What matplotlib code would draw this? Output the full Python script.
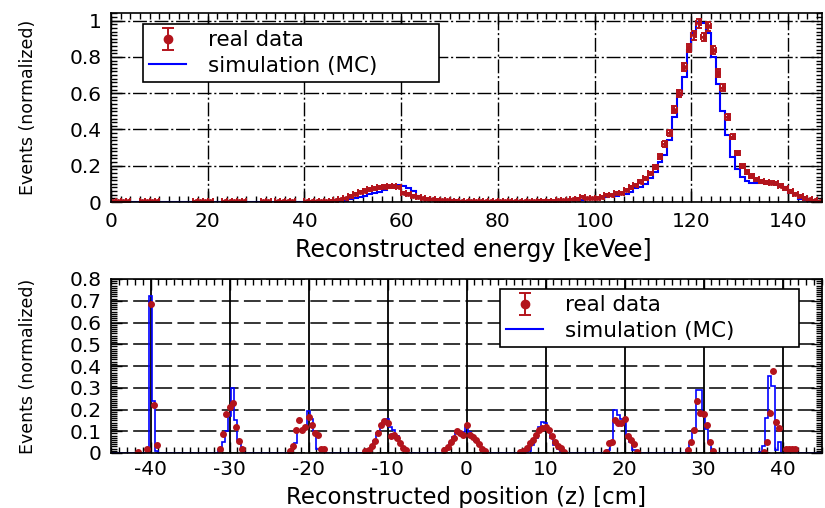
import numpy as np
import matplotlib
matplotlib.use("Agg")
import matplotlib.pyplot as plt
from matplotlib.lines import Line2D
from matplotlib.ticker import MultipleLocator, FuncFormatter

plt.rcParams['font.family'] = ['DejaVu Sans']
plt.rcParams['axes.unicode_minus'] = False

RED = '#b3141c'
BLUE = '#0000ff'

# ---------------------------------------------------------------
# Energy spectrum: 1 keV bins from 0 to 147 keV (normalized to peak)
# ---------------------------------------------------------------
energy_data = [
    0.003, 0.004, 0.003, 0.003, 0.0, 0.0, 0.003, 0.004, 0.003, 0.003,
    0.0, 0.0, 0.0, 0.0, 0.0, 0.0, 0.0, 0.003, 0.004, 0.005,
    0.004, 0.0, 0.0, 0.005, 0.006, 0.006, 0.005, 0.004, 0.0, 0.0,
    0.0, 0.003, 0.003, 0.0, 0.003, 0.004, 0.003, 0.003, 0.0, 0.0,
    0.004, 0.005, 0.005, 0.006, 0.006, 0.007, 0.009, 0.014, 0.020, 0.032,
    0.045, 0.055, 0.063, 0.070, 0.075, 0.080, 0.084, 0.086, 0.087, 0.082,
    0.050, 0.042, 0.034, 0.027, 0.021, 0.017, 0.015, 0.013, 0.011, 0.009,
    0.008, 0.007, 0.006, 0.006, 0.005, 0.005, 0.005, 0.004, 0.004, 0.004,
    0.004, 0.004, 0.004, 0.005, 0.005, 0.005, 0.006, 0.006, 0.007, 0.007,
    0.008, 0.008, 0.009, 0.010, 0.011, 0.015, 0.017, 0.030, 0.020, 0.020,
    0.024, 0.030, 0.038, 0.040, 0.047, 0.052, 0.066, 0.080, 0.094, 0.112,
    0.130, 0.158, 0.195, 0.250, 0.320, 0.380, 0.510, 0.600, 0.745, 0.850,
    0.920, 0.985, 0.910, 0.970, 0.840, 0.710, 0.630, 0.470, 0.360, 0.270,
    0.200, 0.167, 0.143, 0.125, 0.115, 0.110, 0.107, 0.103, 0.090, 0.075,
    0.058, 0.045, 0.035, 0.022, 0.015, 0.010, 0.006,
]
energy_mc = [
    0.0, 0.0, 0.0, 0.0, 0.0, 0.0, 0.0, 0.0, 0.0, 0.0,
    0.0, 0.0, 0.0, 0.0, 0.0, 0.0, 0.0, 0.0, 0.0, 0.0,
    0.0, 0.0, 0.0, 0.0, 0.0, 0.0, 0.0, 0.0, 0.0, 0.0,
    0.0, 0.0, 0.0, 0.0, 0.0, 0.0, 0.0, 0.0, 0.0, 0.0,
    0.0, 0.0, 0.0, 0.0, 0.0, 0.001, 0.003, 0.005, 0.008, 0.015,
    0.022, 0.027, 0.035, 0.042, 0.048, 0.053, 0.065, 0.085, 0.093, 0.095,
    0.090, 0.076, 0.058, 0.035, 0.022, 0.018, 0.015, 0.013, 0.012, 0.011,
    0.010, 0.009, 0.008, 0.007, 0.006, 0.005, 0.005, 0.004, 0.004, 0.004,
    0.004, 0.004, 0.004, 0.004, 0.004, 0.005, 0.005, 0.005, 0.005, 0.006,
    0.006, 0.006, 0.007, 0.008, 0.009, 0.010, 0.011, 0.012, 0.014, 0.016,
    0.018, 0.020, 0.026, 0.033, 0.033, 0.044, 0.044, 0.057, 0.075, 0.085,
    0.100, 0.130, 0.167, 0.220, 0.260, 0.340, 0.470, 0.590, 0.690, 0.840,
    0.930, 0.995, 0.985, 0.930, 0.800, 0.650, 0.500, 0.370, 0.250, 0.180,
    0.140, 0.115, 0.107, 0.107, 0.106, 0.105, 0.104, 0.100, 0.088, 0.080,
    0.050, 0.045, 0.018, 0.013, 0.006, 0.005, 0.004,
]
energy_peak_counts = 1600.0      # counts in the highest bin, for Poisson errors
energy_xticks = [0, 20, 40, 60, 80, 100, 120, 140]
energy_yticks = [0, 0.2, 0.4, 0.6, 0.8, 1.0]

# ---------------------------------------------------------------
# Position spectrum: 0.4 cm bins from -45 to 45 cm, nine source positions.
# For every position: offset (in bins) of the first listed bin, then values.
# ---------------------------------------------------------------
z_positions = [-40, -30, -20, -10, 0, 10, 20, 30, 40]

z_mc_first = [0, -3, -5, -6, -7, -5, -5, -5, -7]
z_mc_values = [
    [0.72, 0.24, 0.01],
    [0.01, 0.05, 0.10, 0.17, 0.30, 0.15, 0.06, 0.015],
    [0.017, 0.045, 0.10, 0.11, 0.12, 0.195, 0.155, 0.10, 0.02],
    [0.008, 0.025, 0.055, 0.09, 0.13, 0.15, 0.155, 0.12, 0.105, 0.08, 0.05, 0.015],
    [0.01, 0.025, 0.045, 0.075, 0.09, 0.092, 0.095, 0.12, 0.095, 0.08, 0.055, 0.035, 0.012],
    [0.01, 0.035, 0.07, 0.12, 0.143, 0.14, 0.11, 0.07, 0.035, 0.02, 0.005],
    [0.015, 0.05, 0.20, 0.175, 0.155, 0.15, 0.085, 0.05, 0.015],
    [0.015, 0.045, 0.105, 0.29, 0.29, 0.175, 0.11, 0.05, 0.01],
    [0.005, 0.03, 0.16, 0.355, 0.31, 0.015, 0.05],
]

z_data_first = [-4, -3, -6, -7, -7, -8, -6, -5, -6]
z_data_values = [
    [0.006, 0.0, 0.0, 0.02, 0.685, 0.22, 0.035],
    [0.02, 0.086, 0.18, 0.21, 0.23, 0.12, 0.057, 0.017],
    [0.01, 0.034, 0.107, 0.15, 0.107, 0.12, 0.165, 0.13, 0.09, 0.085, 0.018, 0.018],
    [0.008, 0.012, 0.03, 0.055, 0.09, 0.13, 0.145, 0.14, 0.08, 0.085, 0.07, 0.045, 0.022, 0.015],
    [0.012, 0.027, 0.05, 0.07, 0.10, 0.09, 0.085, 0.13, 0.085, 0.075, 0.06, 0.04, 0.02, 0.008],
    [0.005, 0.01, 0.025, 0.045, 0.06, 0.085, 0.107, 0.117, 0.12, 0.107, 0.077, 0.05, 0.03, 0.023, 0.005],
    [0.006, 0.045, 0.05, 0.152, 0.14, 0.136, 0.155, 0.078, 0.06, 0.041, 0.006],
    [0.015, 0.05, 0.105, 0.24, 0.185, 0.18, 0.13, 0.05, 0.01],
    [0.004, 0.052, 0.185, 0.375, 0.144, 0.116, 0.0, 0.017, 0.017, 0.017, 0.017],
]
z_xticks = [-40, -30, -20, -10, 0, 10, 20, 30, 40]
z_yticks = [0, 0.1, 0.2, 0.3, 0.4, 0.5, 0.6, 0.7, 0.8]

# ---------------------------------------------------------------
# Build binned arrays
# ---------------------------------------------------------------
energy_data = np.asarray(energy_data)
energy_mc = np.asarray(energy_mc)
e_edges = np.arange(len(energy_mc) + 1, dtype=float)
e_centers = 0.5 * (e_edges[:-1] + e_edges[1:])
energy_err = np.sqrt(energy_data / energy_peak_counts)

z_edges = np.linspace(-45.0, 45.0, 226)
z_centers = 0.5 * (z_edges[:-1] + z_edges[1:])
z_width = z_edges[1] - z_edges[0]


def fill_bins(firsts, values):
    out = np.zeros(len(z_centers))
    for pos, j0, vals in zip(z_positions, firsts, values):
        k0 = int(np.argmin(np.abs(z_centers - pos))) + j0
        out[k0:k0 + len(vals)] = vals
    return out


z_mc = fill_bins(z_mc_first, z_mc_values)
z_data = fill_bins(z_data_first, z_data_values)

# ---------------------------------------------------------------
# Figure
# ---------------------------------------------------------------
W, H = 825, 508
fig = plt.figure(figsize=(W / 100, H / 100), dpi=100)
ax1 = fig.add_axes([111 / W, 1 - 202 / H, 711 / W, 189 / H])
ax2 = fig.add_axes([111 / W, 1 - 453 / H, 711 / W, 174 / H])

TICK_FS = 14.5
LABEL_FS = 17
YLABEL_FS = 12.5
LEG_FS = 15.5
fmt = FuncFormatter(lambda v, p: '%g' % round(v, 3))


def style_axes(ax, xminor, yminor):
    ax.set_axisbelow(True)
    ax.xaxis.set_minor_locator(MultipleLocator(xminor))
    ax.yaxis.set_minor_locator(MultipleLocator(yminor))
    ax.yaxis.set_major_formatter(fmt)
    ax.tick_params(which='both', direction='in', top=True, right=True,
                   labelsize=TICK_FS, width=1.0, color='k')
    ax.tick_params(which='major', length=8, pad=7)
    ax.tick_params(which='minor', length=4)
    for s in ax.spines.values():
        s.set_linewidth(1.2)
        s.set_color('k')
        s.set_zorder(5)


# --- top: energy ---
ax1.stairs(energy_mc, e_edges, color=BLUE, lw=1.5, zorder=3)
m = energy_data > 0
ax1.errorbar(e_centers[m], energy_data[m], xerr=0.5, yerr=energy_err[m],
             fmt='o', ms=2.5, color=RED, ecolor=RED, elinewidth=1.4,
             capsize=2.5, capthick=1.4, zorder=4)
ax1.set_xlim(0, 147)
ax1.set_ylim(0, 1.0425)
ax1.set_xticks(energy_xticks)
ax1.set_yticks(energy_yticks)
style_axes(ax1, 2, 0.02)
ax1.grid(True, which='major', color='k', lw=1.0,
         linestyle=(0, (10, 2, 1.5, 2)))
ax1.set_xlabel('Reconstructed energy [keVee]', fontsize=LABEL_FS)
ax1.set_ylabel('Events (normalized)', fontsize=YLABEL_FS)
ax1.xaxis.set_label_coords(0.51, -0.19)
ax1.yaxis.set_label_coords(-0.104, 0.5)

# --- bottom: position ---
ax2.stairs(z_mc, z_edges, color=BLUE, lw=1.2, zorder=3)
m2 = z_data > 0
ax2.errorbar(z_centers[m2], z_data[m2], xerr=z_width / 2, yerr=0.002,
             fmt='o', ms=4, color=RED, ecolor=RED, elinewidth=1.4,
             capsize=0, zorder=4)
ax2.set_xlim(-45, 45)
ax2.set_ylim(0, 0.8)
ax2.set_xticks(z_xticks)
ax2.set_yticks(z_yticks)
style_axes(ax2, 1, 0.01)
ax2.xaxis.grid(True, color='k', lw=1.3, ls='-')
ax2.yaxis.grid(True, color='k', lw=1.1, ls=(0, (11, 3.5)))
ax2.tick_params(axis='x', which='major', pad=5)
ax2.set_xlabel('Reconstructed position (z) [cm]', fontsize=16.5)
ax2.set_ylabel('Events (normalized)', fontsize=YLABEL_FS)
ax2.xaxis.set_label_coords(0.5, -0.188)
ax2.yaxis.set_label_coords(-0.104, 0.5)


# --- legends ---
def add_legend(ax, x0, y0, w, h):
    h_data = ax.errorbar([np.nan], [np.nan], yerr=[0.01], fmt='o', ms=6,
                         color=RED, ecolor=RED, elinewidth=1.4,
                         capsize=4, capthick=1.4)
    h_mc = Line2D([], [], color=BLUE, lw=1.5)
    leg = ax.legend([h_data, h_mc], ['real data', 'simulation (MC)'],
                    loc='upper left', bbox_to_anchor=(x0, y0, w, h),
                    mode='expand', fontsize=LEG_FS, frameon=True,
                    fancybox=False, framealpha=1, edgecolor='k',
                    borderpad=0.3, labelspacing=0.25, handlelength=1.7,
                    handletextpad=1.0, borderaxespad=0.0)
    leg.get_frame().set_linewidth(1.2)
    leg.set_zorder(10)
    return leg


add_legend(ax1, 32 / 711, (202 - 83) / 189, 296 / 711, 59 / 189)
add_legend(ax2, 389 / 711, (453 - 347) / 174, 299 / 711, 58 / 174)

fig.savefig('out.png', dpi=100)
